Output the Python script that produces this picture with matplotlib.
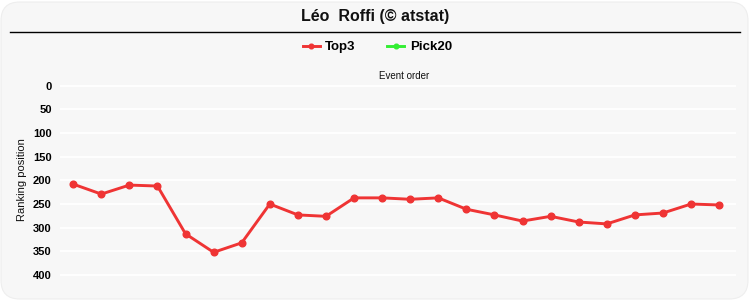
import matplotlib
matplotlib.use("Agg")
import matplotlib.pyplot as plt
from matplotlib.patches import FancyBboxPatch
from matplotlib.lines import Line2D

title = "Léo  Roffi (© atstat)"
series_names = ["Top3", "Pick20"]
top3 = [208, 229, 210, 212, 313, 352, 332, 250, 273, 276, 237, 237, 240, 237,
        261, 273, 286, 276, 288, 292, 273, 269, 250, 252]
pick20 = []
yticks = [0, 50, 100, 150, 200, 250, 300, 350, 400]

plt.rcParams['font.family'] = ['Liberation Sans', 'DejaVu Sans']

W, H = 750, 300
fig = plt.figure(figsize=(7.5, 3.0), dpi=100)
fig.patch.set_facecolor('white')

bg = FancyBboxPatch((1 / W, 1 / H), 747 / W, 297 / H,
                    boxstyle="round,pad=0,rounding_size=0.025",
                    transform=fig.transFigure, facecolor='#f7f7f7',
                    edgecolor='#eeeeee', linewidth=0.8, mutation_aspect=W / H,
                    zorder=-10)
fig.patches.append(bg)

fig.text(0.5, 1 - 16 / H, title, ha='center', va='center', fontsize=11.5,
         fontweight='bold', color='#111111')
fig.add_artist(Line2D([10 / W, 740 / W], [1 - 32 / H, 1 - 32 / H],
                      transform=fig.transFigure, color='black', linewidth=1.0))

# axes: x from 60 to 736 px; y from 83.3 to 284.5 px
left, right = 60 / W, 736 / W
top, bottom = 1 - 83.3 / H, 1 - 284.5 / H
ax = fig.add_axes([left, bottom, right - left, top - bottom], zorder=1)
ax.set_facecolor('none')

x = list(range(len(top3)))
l1, = ax.plot(x, top3, color='#ef3434', linewidth=2.1, marker='o',
              markersize=4.8, label=series_names[0], zorder=3)
l2, = ax.plot(range(len(pick20)), pick20, color='#33ee33', linewidth=2.1,
              marker='o', markersize=4.8, label=series_names[1])

ax.set_xlim(-0.47, len(top3) - 1 + 0.6)
ax.set_ylim(420, -5)
ax.set_yticks(yticks)
ax.set_yticklabels([str(v) for v in yticks], fontsize=8, fontweight='bold')
ax.set_xticks([])
ax.tick_params(axis='y', length=0, pad=6)
for s in ax.spines.values():
    s.set_visible(False)
ax.grid(axis='y', color='white', linewidth=1.3, zorder=0)
ax.set_axisbelow(True)

fig.text(22 / W, 1 - 180 / H, "Ranking position", rotation=90, ha='center',
         va='center', fontsize=8, color='#111111')
fig.text(404 / W, 1 - 76 / H, "Event order", ha='center', va='center',
         fontsize=7, color='#111111')

leg = fig.legend(handles=[l1, l2], loc='center', bbox_to_anchor=(0.503, 1 - 47 / H),
                 ncol=2, frameon=False, prop={'size': 9.5, 'weight': 'bold'},
                 handlelength=1.3, columnspacing=2.4, handletextpad=0.4,
                 markerscale=0.7)

fig.savefig("out.png", dpi=100, facecolor='white')
